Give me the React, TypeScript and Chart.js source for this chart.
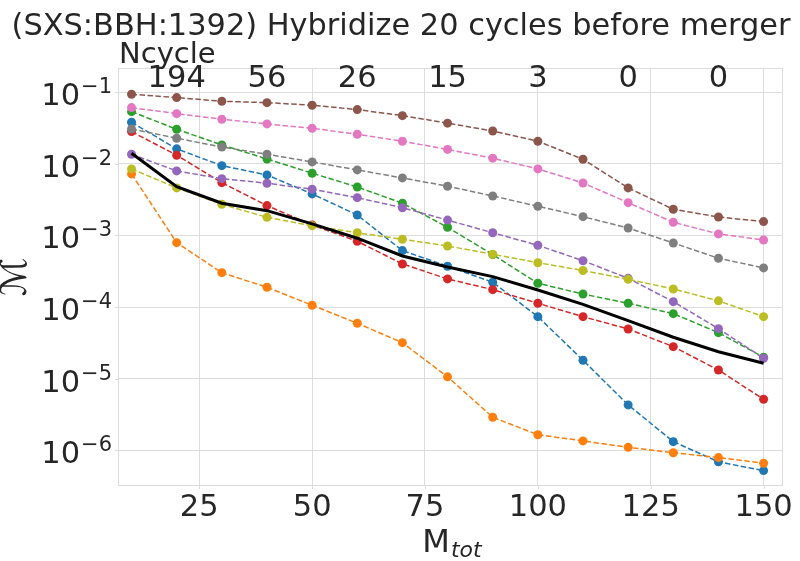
import React, { useEffect, useRef } from "react";
import { Chart, registerables } from "chart.js";

Chart.register(...registerables);

const titleText = "(SXS:BBH:1392) Hybridize 20 cycles before merger";
const xValues = [10, 20, 30, 40, 50, 60, 70, 80, 90, 100, 110, 120, 130, 140, 150];
const xTickValues = [25, 50, 75, 100, 125, 150];
const yTickExponents = [-6, -5, -4, -3, -2, -1];
const ncycleTickValues = [20, 40, 60, 80, 100, 120, 140];
const ncycleLabels = ["194", "56", "26", "15", "3", "0", "0"];

const blueValues = [0.0381, 0.0162, 0.00944, 0.007, 0.0038, 0.00193, 0.000614, 0.000372, 0.000222, 0.0000735, 0.0000181, 0.0000043, 0.00000132, 6.9e-7, 5.2e-7];
const orangeValues = [0.00723, 0.000793, 0.000302, 0.000189, 0.000106, 0.0000594, 0.0000318, 0.0000106, 0.00000289, 0.00000165, 0.00000135, 0.0000011, 9.25e-7, 7.9e-7, 6.6e-7];
const greenValues = [0.0536, 0.0304, 0.0184, 0.0117, 0.0074, 0.00475, 0.00282, 0.0013, 0.00054, 0.000215, 0.000152, 0.000113, 0.0000809, 0.0000439, 0.0000199];
const redValues = [0.0282, 0.0132, 0.00546, 0.00261, 0.0014, 0.00083, 0.0004, 0.000247, 0.000175, 0.000113, 0.0000734, 0.0000494, 0.000028, 0.0000132, 0.00000515];
const purpleValues = [0.0136, 0.00796, 0.00621, 0.00536, 0.00442, 0.00337, 0.00244, 0.00164, 0.00109, 0.000729, 0.000444, 0.000252, 0.000119, 0.0000499, 0.0000193];
const brownValues = [0.0938, 0.0841, 0.0749, 0.0716, 0.0658, 0.0572, 0.0471, 0.037, 0.0288, 0.0207, 0.0116, 0.00461, 0.00232, 0.00181, 0.00156];
const pinkValues = [0.061, 0.0502, 0.042, 0.0361, 0.0314, 0.0259, 0.0207, 0.0159, 0.012, 0.00849, 0.00541, 0.00287, 0.00153, 0.00105, 0.000865];
const grayValues = [0.0307, 0.0228, 0.0172, 0.0136, 0.01064, 0.00822, 0.00636, 0.00487, 0.00356, 0.00256, 0.00183, 0.00127, 0.000785, 0.000481, 0.000352];
const oliveValues = [0.00849, 0.00461, 0.00273, 0.00179, 0.00137, 0.00109, 0.000885, 0.000713, 0.000546, 0.000416, 0.000324, 0.000244, 0.000179, 0.000122, 0.0000734];
const blackValues = [0.01406, 0.00481, 0.00282, 0.00222, 0.00145, 0.000915, 0.000517, 0.000363, 0.000266, 0.000173, 0.000109, 0.0000646, 0.0000379, 0.0000238, 0.0000164];

const dashedSeries = [
  { values: blueValues, color: "#1f77b4" },
  { values: orangeValues, color: "#ff7f0e" },
  { values: greenValues, color: "#2ca02c" },
  { values: redValues, color: "#d62728" },
  { values: purpleValues, color: "#9467bd" },
  { values: brownValues, color: "#8c564b" },
  { values: pinkValues, color: "#e377c2" },
  { values: grayValues, color: "#7f7f7f" },
  { values: oliveValues, color: "#bcbd22" },
];

const TEXT = "#262626";
const GRID = "#dcdcdc";
const FONT = "'DejaVu Sans', sans-serif";

const decorPlugin = {
  id: "decor",
  afterDraw(chart: any) {
    const ctx = chart.ctx;
    const area = chart.chartArea;
    const xs = chart.scales.x;
    const ys = chart.scales.y;
    ctx.save();
    // frame
    ctx.strokeStyle = GRID;
    ctx.lineWidth = 1;
    ctx.strokeRect(Math.round(area.left) + 0.5, Math.round(area.top) + 0.5, Math.round(area.right - area.left) - 1, Math.round(area.bottom - area.top) - 1);
    // small ticks
    ctx.beginPath();
    xTickValues.forEach((v) => {
      const px = Math.round(xs.getPixelForValue(v)) + 0.5;
      ctx.moveTo(px, area.bottom);
      ctx.lineTo(px, area.bottom + 3);
    });
    yTickExponents.forEach((e) => {
      const py = Math.round(ys.getPixelForValue(Math.pow(10, e))) + 0.5;
      ctx.moveTo(area.left - 3, py);
      ctx.lineTo(area.left, py);
    });
    ctx.stroke();

    ctx.fillStyle = TEXT;
    // title
    ctx.font = `30.4px ${FONT}`;
    ctx.textAlign = "center";
    ctx.textBaseline = "alphabetic";
    ctx.fillText(titleText, 401, 35);
    // Ncycle label
    ctx.font = `29px ${FONT}`;
    ctx.textAlign = "left";
    ctx.fillText("Ncycle", 119, 63);
    // top tick labels
    ctx.font = `30.5px ${FONT}`;
    ctx.textAlign = "center";
    ncycleTickValues.forEach((v, i) => {
      ctx.fillText(ncycleLabels[i], xs.getPixelForValue(v), 87);
    });
    // bottom tick labels
    xTickValues.forEach((v) => {
      ctx.fillText(String(v), xs.getPixelForValue(v), 516);
    });
    // y tick labels 10^e
    yTickExponents.forEach((e) => {
      const py = ys.getPixelForValue(Math.pow(10, e));
      const sup = "\u2212" + String(-e);
      ctx.font = `21px ${FONT}`;
      ctx.textAlign = "right";
      const rightEdge = area.left - 6;
      ctx.fillText(sup, rightEdge, py + 1);
      const w = ctx.measureText(sup).width;
      ctx.font = `30.5px ${FONT}`;
      ctx.fillText("10", rightEdge - w - 1, py + 13);
    });
    // x axis label M_tot
    ctx.textAlign = "left";
    ctx.font = `32px ${FONT}`;
    const wM = ctx.measureText("M").width;
    ctx.font = `italic 22px ${FONT}`;
    const wT = ctx.measureText("tot").width;
    const cx = (area.left + area.right) / 2 + 1;
    const startX = cx - (wM + wT) / 2;
    ctx.font = `32px ${FONT}`;
    ctx.fillText("M", startX, 552);
    ctx.font = `italic 22px ${FONT}`;
    ctx.fillText("tot", startX + wM + 1, 557);
    // y axis label
    ctx.save();
    ctx.translate(17, (area.top + area.bottom) / 2);
    ctx.rotate(-Math.PI / 2);
    ctx.font = `36px ${FONT}`;
    ctx.textAlign = "center";
    ctx.textBaseline = "middle";
    ctx.fillText("\u2133", 0, 0);
    ctx.restore();
    ctx.restore();
  },
};

export default function App() {
  const canvasRef = useRef<HTMLCanvasElement | null>(null);

  useEffect(() => {
    if (!canvasRef.current) return;
    const datasets: any[] = dashedSeries.map((s, i) => ({
      label: s.color,
      data: xValues.map((x, j) => ({ x, y: s.values[j] })),
      borderColor: s.color,
      backgroundColor: s.color,
      borderWidth: 1.5,
      borderDash: [5.5, 2.5],
      pointRadius: 4.5,
      pointBorderWidth: 0,
      pointBackgroundColor: s.color,
      tension: 0,
      order: dashedSeries.length - i,
    }));
    datasets.push({
      label: "black",
      data: xValues.map((x, j) => ({ x, y: blackValues[j] })),
      borderColor: "#000000",
      backgroundColor: "#000000",
      borderWidth: 3,
      pointRadius: 0,
      tension: 0,
      order: 0,
    });

    const chart = new Chart(canvasRef.current, {
      type: "line",
      data: { datasets },
      plugins: [decorPlugin],
      options: {
        animation: false,
        responsive: false,
        devicePixelRatio: 1,
        layout: { padding: { top: 68, right: 17, bottom: 0, left: 0 } },
        plugins: {
          legend: { display: false },
          title: { display: false },
          tooltip: { enabled: false },
        },
        scales: {
          x: {
            type: "linear",
            position: "bottom",
            min: 7,
            max: 154.3,
            afterBuildTicks: (scale: any) => {
              scale.ticks = xTickValues.map((v) => ({ value: v }));
            },
            afterFit: (scale: any) => {
              scale.height = 75;
            },
            ticks: { display: false },
            grid: { color: GRID, lineWidth: 1, drawTicks: false },
            border: { display: false },
          },
          y: {
            type: "logarithmic",
            position: "left",
            min: 3.17e-7,
            max: 0.218,
            afterBuildTicks: (scale: any) => {
              scale.ticks = yTickExponents.map((e) => ({ value: Math.pow(10, e) }));
            },
            afterFit: (scale: any) => {
              scale.width = 118;
            },
            ticks: { display: false },
            grid: { color: GRID, lineWidth: 1, drawTicks: false },
            border: { display: false },
          },
        },
      } as any,
    });
    return () => chart.destroy();
  }, []);

  return (
    <div style={{ position: "fixed", left: 0, top: 0, width: 800, height: 561, background: "#ffffff" }}>
      <canvas ref={canvasRef} width={800} height={561} style={{ width: 800, height: 561, display: "block" }} />
    </div>
  );
}
